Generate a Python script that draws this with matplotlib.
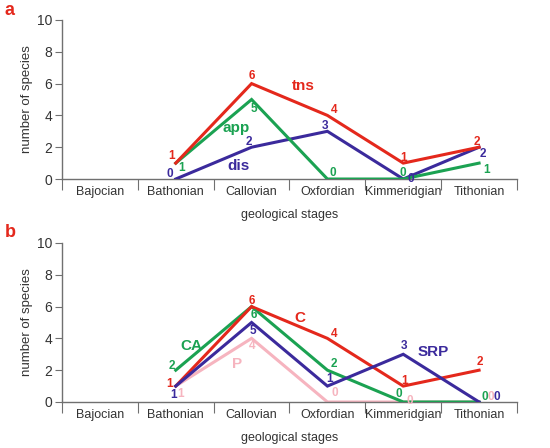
import numpy as np
import matplotlib
matplotlib.use("Agg")
import matplotlib.pyplot as plt

plt.rcParams['font.family'] = ['Liberation Sans', 'DejaVu Sans']

stages = ['Bajocian', 'Bathonian', 'Callovian', 'Oxfordian', 'Kimmeridgian', 'Tithonian']

# panel a
tns = [np.nan, 1, 6, 4, 1, 2]
app = [np.nan, 1, 5, 0, 0, 1]
dis = [np.nan, 0, 2, 3, 0, 2]

# panel b
c_vals = [np.nan, 1, 6, 4, 1, 2]
ca_vals = [np.nan, 2, 6, 2, 0, 0]
srp_vals = [np.nan, 1, 5, 1, 3, 0]
p_vals = [np.nan, 1, 4, 0, 0, 0]

RED = '#e4281c'
GREEN = '#1ba252'
BLUE = '#3b2a9c'
PINK = '#f6b4bf'
AXC = '#707070'

# label offsets in pixels (dx, dy) per point
off_tns = [None, (-4, 7), (0, 8), (7, 5), (0, 5), (-2, 5)]
off_app = [None, (6, -5), (2, -9), (5, 6), (0, 6), (7, -7)]
off_dis = [None, (-6, 5), (-3, 5), (-2, 5), (8, 0), (4, -7)]

off_c = [None, (-6, 2), (0, 6), (7, 4), (1, 5), (1, 8)]
off_ca = [None, (-4, 4), (2, -8), (6, 6), (-4, 8), (6, 5)]
off_srp = [None, (-2, -9), (1, -9), (2, 7), (1, 8), (18, 5)]
off_p = [None, (5, -8), (1, -8), (7, 9), (7, 1), (12, 5)]

fig = plt.figure(figsize=(5.5, 4.48), dpi=100)
ax_a = fig.add_axes([0.1127, 0.6004, 0.8273, 0.355])
ax_b = fig.add_axes([0.1127, 0.1027, 0.8273, 0.355])

x = np.arange(len(stages))


def style_axis(ax):
    ax.set_xlim(-0.5, len(stages) - 0.5)
    ax.set_ylim(0, 10)
    for s in ['top', 'right']:
        ax.spines[s].set_visible(False)
    for s in ['left', 'bottom']:
        ax.spines[s].set_color(AXC)
        ax.spines[s].set_linewidth(1.0)
    ax.set_yticks(range(0, 11, 2))
    ax.tick_params(axis='y', direction='out', length=5, color=AXC,
                   labelsize=10, labelcolor='#333333', pad=2)
    ax.set_xticks(np.arange(-0.5, len(stages)), [])
    ax.tick_params(axis='x', which='major', direction='out', length=8, color=AXC)
    ax.set_xticks(x, stages, minor=True)
    ax.tick_params(axis='x', which='minor', length=0, labelsize=9,
                   labelcolor='#333333', pad=5)
    ax.set_xlabel('geological stages', fontsize=9, color='#333333', labelpad=8)
    ax.set_ylabel('number of species', fontsize=9.5, color='#333333', labelpad=3)


def draw(ax, vals, offs, color, z):
    ax.plot(x, vals, color=color, lw=2.2, zorder=z, solid_joinstyle='miter')
    for xi, v, o in zip(x, vals, offs):
        if o is None or np.isnan(v):
            continue
        ax.annotate(str(int(v)), (xi, v), xytext=o, textcoords='offset pixels',
                    ha='center', va='center', fontsize=8.5, fontweight='bold',
                    color=color, zorder=z + 5, annotation_clip=False)


style_axis(ax_a)
draw(ax_a, dis, off_dis, BLUE, 3)
draw(ax_a, app, off_app, GREEN, 4)
draw(ax_a, tns, off_tns, RED, 5)
ax_a.text(2.68, 5.85, 'tns', color=RED, fontsize=11, fontweight='bold', ha='center', va='center')
ax_a.text(1.80, 3.2, 'app', color=GREEN, fontsize=11, fontweight='bold', ha='center', va='center')
ax_a.text(1.83, 0.82, 'dis', color=BLUE, fontsize=11, fontweight='bold', ha='center', va='center')

style_axis(ax_b)
draw(ax_b, p_vals, off_p, PINK, 2)
draw(ax_b, ca_vals, off_ca, GREEN, 3)
draw(ax_b, c_vals, off_c, RED, 4)
draw(ax_b, srp_vals, off_srp, BLUE, 5)
ax_b.text(1.20, 3.53, 'CA', color=GREEN, fontsize=11, fontweight='bold', ha='center', va='center')
ax_b.text(1.81, 2.39, 'P', color=PINK, fontsize=11, fontweight='bold', ha='center', va='center')
ax_b.text(2.64, 5.28, 'C', color=RED, fontsize=11, fontweight='bold', ha='center', va='center')
ax_b.text(4.39, 3.14, 'SRP', color=BLUE, fontsize=11, fontweight='bold', ha='center', va='center')

fig.text(0.008, 0.976, 'a', color=RED, fontsize=13, fontweight='bold', va='center')
fig.text(0.008, 0.480, 'b', color=RED, fontsize=13, fontweight='bold', va='center')

fig.savefig('out.png', dpi=100)
